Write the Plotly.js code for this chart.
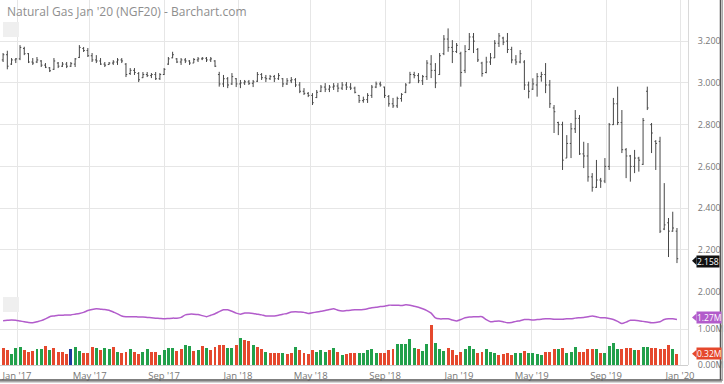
<!DOCTYPE html>
<html><head><meta charset="utf-8">
<script src="https://cdn.plot.ly/plotly-3.0.1.min.js"></script>
<style>html,body{margin:0;padding:0;background:#fff}#chart{width:724px;height:384px}</style>
</head><body><div id="chart"></div>
<script>
const weeks = [
"2016-12-09","2016-12-16","2016-12-23","2016-12-30",
"2017-01-06","2017-01-13","2017-01-20","2017-01-27","2017-02-03","2017-02-10","2017-02-17","2017-02-24",
"2017-03-03","2017-03-10","2017-03-17","2017-03-24","2017-03-31","2017-04-07","2017-04-14","2017-04-21","2017-04-28",
"2017-05-05","2017-05-12","2017-05-19","2017-05-26","2017-06-02","2017-06-09","2017-06-16","2017-06-23","2017-06-30",
"2017-07-07","2017-07-14","2017-07-21","2017-07-28","2017-08-04","2017-08-11","2017-08-18","2017-08-25",
"2017-09-01","2017-09-08","2017-09-15","2017-09-22","2017-09-29","2017-10-06","2017-10-13","2017-10-20","2017-10-27",
"2017-11-03","2017-11-10","2017-11-17","2017-11-24","2017-12-01","2017-12-08","2017-12-15","2017-12-22","2017-12-29",
"2018-01-05","2018-01-12","2018-01-19","2018-01-26","2018-02-02","2018-02-09","2018-02-16","2018-02-23",
"2018-03-02","2018-03-09","2018-03-16","2018-03-23","2018-03-30","2018-04-06","2018-04-13","2018-04-20","2018-04-27",
"2018-05-04","2018-05-11","2018-05-18","2018-05-25","2018-06-01","2018-06-08","2018-06-15","2018-06-22","2018-06-29",
"2018-07-06","2018-07-13","2018-07-20","2018-07-27","2018-08-03","2018-08-10","2018-08-17","2018-08-24","2018-08-31",
"2018-09-07","2018-09-14","2018-09-21","2018-09-28","2018-10-05","2018-10-12","2018-10-19","2018-10-26",
"2018-11-02","2018-11-09","2018-11-16","2018-11-23","2018-11-30","2018-12-07","2018-12-14","2018-12-21","2018-12-28",
"2019-01-04","2019-01-11","2019-01-18","2019-01-25","2019-02-01","2019-02-08","2019-02-15","2019-02-22",
"2019-03-01","2019-03-08","2019-03-15","2019-03-22","2019-03-29","2019-04-05","2019-04-12","2019-04-19","2019-04-26",
"2019-05-03","2019-05-10","2019-05-17","2019-05-24","2019-05-31","2019-06-07","2019-06-14","2019-06-21","2019-06-28",
"2019-07-05","2019-07-12","2019-07-19","2019-07-26","2019-08-02","2019-08-09","2019-08-16","2019-08-23","2019-08-30",
"2019-09-06","2019-09-13","2019-09-20","2019-09-27","2019-10-04","2019-10-11","2019-10-18","2019-10-25",
"2019-11-01","2019-11-08","2019-11-15","2019-11-22","2019-11-29","2019-12-06","2019-12-13","2019-12-20","2019-12-27"];

const openP = [
3.110,3.135,3.090,3.110,3.115,3.165,3.140,3.100,3.100,3.105,
3.085,3.072,3.065,3.095,3.080,3.090,3.080,3.090,3.122,3.165,
3.155,3.130,3.110,3.105,3.090,3.088,3.095,3.100,3.110,3.090,
3.045,3.060,3.045,3.025,3.040,3.035,3.040,3.020,3.040,3.090,
3.120,3.115,3.100,3.110,3.105,3.095,3.110,3.115,3.118,3.110,
3.105,3.040,2.995,3.020,2.995,3.020,2.995,3.000,3.005,2.998,
3.008,3.040,3.025,3.020,3.030,3.020,3.020,2.995,3.010,3.015,
2.990,2.960,2.950,2.940,2.930,2.960,2.980,2.970,2.980,2.985,
2.975,2.990,2.980,2.975,2.940,2.915,2.920,2.940,2.980,2.995,
2.980,2.935,2.900,2.890,2.925,2.955,3.000,3.040,3.035,3.010,
3.030,3.090,3.060,3.040,3.140,3.210,3.170,3.150,3.140,3.060,
3.160,3.220,3.160,3.095,3.050,3.100,3.120,3.190,3.215,3.200,
3.160,3.110,3.100,3.100,2.990,2.970,2.990,3.030,3.040,2.990,
2.880,2.810,2.800,2.640,2.710,2.780,2.830,2.660,2.650,2.550,
2.500,2.535,2.530,2.600,2.800,2.900,2.810,2.680,2.650,2.600,
2.640,2.610,2.960,2.800,2.720,2.720,2.300,2.330,2.290,2.290];
const highP = [
3.143,3.154,3.119,3.119,3.181,3.173,3.143,3.119,3.124,3.109,
3.095,3.076,3.119,3.100,3.100,3.100,3.100,3.119,3.181,3.172,
3.167,3.143,3.133,3.119,3.100,3.100,3.109,3.119,3.119,3.095,
3.071,3.071,3.052,3.052,3.052,3.047,3.052,3.047,3.071,3.124,
3.149,3.119,3.119,3.119,3.109,3.119,3.124,3.124,3.124,3.124,
3.109,3.053,3.038,3.028,3.047,3.023,3.014,3.014,3.014,3.014,
3.052,3.047,3.038,3.038,3.038,3.047,3.023,3.023,3.028,3.023,
3.004,2.975,2.956,2.951,2.966,2.990,2.999,2.990,2.999,2.999,
3.004,3.004,2.999,2.982,2.942,2.934,2.951,2.990,3.006,3.006,
2.982,2.942,2.928,2.934,2.951,2.999,3.053,3.053,3.047,3.038,
3.109,3.133,3.095,3.143,3.229,3.261,3.205,3.191,3.149,3.181,
3.239,3.239,3.167,3.101,3.125,3.143,3.205,3.239,3.221,3.239,
3.173,3.133,3.157,3.109,3.006,3.022,3.047,3.053,3.095,3.014,
2.894,2.814,2.814,2.750,2.808,2.870,2.846,2.718,2.712,2.568,
2.631,2.545,2.640,2.808,2.928,2.982,2.870,2.688,2.655,2.679,
2.646,2.832,2.982,2.808,2.726,2.742,2.520,2.353,2.383,2.305];
const lowP = [
3.100,3.065,3.086,3.095,3.109,3.133,3.095,3.086,3.095,3.076,
3.071,3.052,3.062,3.071,3.076,3.071,3.076,3.076,3.119,3.148,
3.124,3.100,3.095,3.086,3.076,3.086,3.086,3.086,3.095,3.028,
3.038,3.038,3.004,3.023,3.028,3.023,3.014,3.014,3.038,3.086,
3.118,3.095,3.086,3.095,3.086,3.095,3.100,3.109,3.100,3.100,
3.076,2.982,2.980,2.975,2.990,2.980,2.975,2.990,2.990,2.980,
3.004,3.014,3.004,3.014,3.004,3.014,2.980,2.990,2.999,2.980,
2.951,2.942,2.932,2.894,2.927,2.956,2.956,2.956,2.966,2.956,
2.966,2.966,2.966,2.950,2.904,2.905,2.904,2.928,2.975,2.982,
2.928,2.886,2.880,2.880,2.910,2.951,2.998,3.022,2.999,2.990,
3.014,3.023,2.975,3.038,3.133,3.149,3.095,3.143,2.982,3.047,
3.157,3.143,3.100,3.030,3.046,3.086,3.119,3.172,3.181,3.143,
3.094,3.086,3.094,2.966,2.926,2.966,2.934,3.006,2.951,2.880,
2.760,2.750,2.583,2.640,2.640,2.760,2.655,2.592,2.527,2.479,
2.497,2.497,2.520,2.583,2.798,2.798,2.664,2.544,2.527,2.568,
2.575,2.607,2.870,2.664,2.583,2.281,2.295,2.166,2.287,2.137];
const closeP = [
3.135,3.080,3.110,3.115,3.170,3.140,3.100,3.095,3.110,3.085,
3.075,3.058,3.105,3.080,3.090,3.080,3.092,3.115,3.170,3.155,
3.130,3.110,3.105,3.090,3.085,3.095,3.100,3.110,3.105,3.040,
3.060,3.050,3.015,3.040,3.035,3.040,3.020,3.040,3.065,3.115,
3.135,3.100,3.110,3.105,3.095,3.112,3.115,3.118,3.110,3.115,
3.080,2.995,3.020,2.990,3.030,2.995,3.000,3.005,2.998,3.005,
3.040,3.025,3.020,3.030,3.020,3.035,2.995,3.010,3.015,2.990,
2.960,2.950,2.940,2.905,2.955,2.980,2.970,2.980,2.985,2.975,
2.990,2.980,2.975,2.955,2.915,2.920,2.940,2.980,2.995,2.990,
2.940,2.900,2.890,2.925,2.945,2.990,3.040,3.035,3.010,3.030,
3.095,3.060,3.000,3.130,3.210,3.170,3.150,3.180,3.050,3.150,
3.220,3.200,3.110,3.045,3.100,3.120,3.190,3.225,3.195,3.160,
3.110,3.100,3.140,2.990,2.960,2.995,3.030,3.040,2.990,2.900,
2.862,2.800,2.630,2.710,2.780,2.830,2.660,2.650,2.550,2.500,
2.535,2.530,2.600,2.800,2.900,2.810,2.680,2.650,2.600,2.640,
2.630,2.820,2.880,2.760,2.710,2.290,2.320,2.290,2.305,2.158];

const volumeM = [
.49,.42,.32,.49,.51,.42,.38,.40,.44,.44,
.54,.43,.47,.38,.37,.32,.44,.51,.40,.33,
.33,.51,.47,.42,.48,.44,.51,.37,.33,.38,
.44,.36,.32,.38,.45,.38,.38,.29,.43,.48,
.48,.40,.46,.56,.54,.40,.42,.54,.49,.42,
.51,.56,.56,.49,.49,.56,.77,.69,.68,.56,
.51,.46,.38,.33,.35,.35,.33,.31,.35,.52,
.42,.33,.31,.42,.38,.42,.38,.42,.47,.38,
.28,.32,.35,.35,.33,.35,.43,.44,.35,.33,
.33,.42,.44,.58,.58,.58,.72,.49,.44,.40,
.60,1.11,.63,.44,.40,.49,.43,.28,.38,.44,
.54,.44,.33,.38,.46,.37,.33,.29,.31,.33,
.28,.33,.33,.40,.33,.33,.31,.28,.37,.37,
.44,.46,.49,.33,.37,.52,.37,.37,.44,.46,
.44,.35,.35,.54,.61,.46,.44,.49,.49,.43,
.43,.52,.52,.49,.47,.44,.44,.56,.44,.32];
const volumeDir = (
"rrgggrrrgg"+"rgrrrrbggr"+"rrgrggrgrr"+"grrggrrggg"+"grrggrgrgr"+
"rrrggrgrrg"+"rrgrrrgrrg"+"rrrrgggrgr"+"grrrg"+
"ggggrrrrgg"+"gggrggrggg"+"rrrrgggrrg"+"ggrrrrggrg"+"gggrrrgrgg"+
"grrrrgrggg"+"grrrgrggrr"+"rrrgr").split("");

const openInterestM = [
1.24,1.25,1.26,1.25,1.23,1.21,1.19,1.18,1.21,1.24,
1.29,1.35,1.37,1.39,1.39,1.40,1.40,1.42,1.44,1.47,
1.52,1.55,1.57,1.56,1.55,1.53,1.48,1.43,1.37,1.35,
1.35,1.35,1.34,1.34,1.33,1.32,1.31,1.30,1.29,1.30,
1.31,1.31,1.33,1.40,1.42,1.42,1.41,1.38,1.35,1.39,
1.43,1.49,1.54,1.54,1.50,1.45,1.42,1.45,1.45,1.44,
1.42,1.40,1.37,1.37,1.37,1.39,1.42,1.44,1.48,1.49,
1.48,1.47,1.44,1.46,1.48,1.50,1.52,1.55,1.57,1.53,
1.51,1.52,1.53,1.54,1.54,1.55,1.57,1.60,1.61,1.63,
1.64,1.67,1.67,1.67,1.66,1.68,1.67,1.64,1.61,1.57,
1.52,1.45,1.32,1.29,1.29,1.29,1.26,1.23,1.27,1.32,
1.34,1.35,1.35,1.35,1.27,1.21,1.22,1.23,1.21,1.18,
1.19,1.22,1.24,1.27,1.27,1.26,1.27,1.28,1.29,1.29,
1.28,1.28,1.28,1.29,1.29,1.31,1.32,1.33,1.35,1.37,
1.35,1.32,1.32,1.30,1.27,1.22,1.16,1.20,1.25,1.25,
1.24,1.22,1.20,1.18,1.19,1.21,1.27,1.29,1.29,1.27];

const xTickVals = ["2017-01-01","2017-05-01","2017-09-01","2018-01-01","2018-05-01","2018-09-01","2019-01-01","2019-05-01","2019-09-01","2020-01-01"];
const xTickText = ["Jan '17","May '17","Sep '17","Jan '18","May '18","Sep '18","Jan '19","May '19","Sep '19","Jan '20"];
const priceTicks = [2.0,2.2,2.4,2.6,2.8,3.0,3.2];
const priceTickText = ["2.000","2.200","2.400","2.600","2.800","3.000","3.200"];
const volTicks = [0,1];
const volTickText = ["0.00M","1.00M"];
const lastPrice = 2.158, lastOI = 1.27, lastVol = 0.32;

const W=724, H=384;
const px = v => v/W, py = v => 1 - v/H;
const GREEN='#22a04b', RED='#e5482d', BLUE='#1d3c9c', PURPLE='#b25ccb';
const colMap = {g:GREEN, r:RED, b:BLUE};
const weekMs = 7*86400000;

const traces = [
 {type:'ohlc', x:weeks, open:openP, high:highP, low:lowP, close:closeP, xaxis:'x', yaxis:'y',
  increasing:{line:{color:'#474747', width:1}}, decreasing:{line:{color:'#474747', width:1}},
  tickwidth:0.3, hoverinfo:'skip'},
 {type:'bar', x:weeks, y:volumeM, xaxis:'x', yaxis:'y2', width:weekMs*0.7,
  marker:{color:volumeDir.map(d=>colMap[d]), line:{width:0}}, hoverinfo:'skip'},
 {type:'scatter', mode:'lines', x:weeks, y:openInterestM, xaxis:'x', yaxis:'y2',
  line:{color:PURPLE, width:1.5, shape:'spline', smoothing:0.6}, hoverinfo:'skip'}
];

const tickFont = {family:'Open Sans', size:9.5, color:'#777'};
const yTickFont = {family:'Open Sans', size:9, color:'#777'};
const tagFont = {family:'Open Sans', size:8.5, color:'#fff'};
const grid = '#e6e6e6';
const layout = {
 width:W, height:H, margin:{l:0,r:0,t:0,b:0}, paper_bgcolor:'#fff', plot_bgcolor:'#fff',
 showlegend:false, bargap:0,
 title:{text:"Natural Gas Jan '20 (NGF20) - Barchart.com", x:px(7), xanchor:'left', xref:'paper', y:py(12), yanchor:'middle',
        font:{family:'Open Sans', size:12, color:'#8e8e8e'}},
 xaxis:{type:'date', domain:[0, px(688)], range:['2016-12-03 22:00','2020-01-14 05:00'], anchor:'y2',
        rangeslider:{visible:false}, tickmode:'array', tickvals:xTickVals, ticktext:xTickText,
        showgrid:true, gridcolor:grid, gridwidth:1, zeroline:false, showline:false, ticks:'',
        tickfont:tickFont, ticklabelstandoff:3, fixedrange:true},
 yaxis:{domain:[py(291.7), 1], range:[2.0, 3.397], side:'right', tickmode:'array', tickvals:priceTicks, ticktext:priceTickText,
        showgrid:true, gridcolor:grid, zeroline:false, showline:true, linecolor:'#d9d9d9', ticks:'',
        tickfont:yTickFont, ticklabelstandoff:7, fixedrange:true},
 yaxis2:{domain:[py(365.3), py(291.7)], range:[0, 2.044], side:'right', tickmode:'array', tickvals:volTicks, ticktext:volTickText,
        showgrid:true, gridcolor:grid, zeroline:false, showline:true, linecolor:'#d9d9d9', ticks:'',
        tickfont:yTickFont, ticklabelstandoff:7, fixedrange:true},
 shapes:[
  {type:'rect', xref:'paper', yref:'paper', x0:px(3), x1:px(19), y0:py(37), y1:py(22), fillcolor:'#efefef', line:{width:0}},
  {type:'rect', xref:'paper', yref:'paper', x0:px(3), x1:px(19), y0:py(312), y1:py(297), fillcolor:'#efefef', line:{width:0}},
  {type:'line', xref:'paper', yref:'paper', x0:0, x1:px(688), y0:py(365.5), y1:py(365.5), line:{color:'#cfcfcf', width:1}},
  {type:'path', xref:'paper', yref:'y', path:`M ${px(692)},${lastPrice-0.01} L ${px(696.5)},${lastPrice+0.01} L ${px(696.5)},${lastPrice-0.03} Z`, fillcolor:'#111', line:{width:0}},
  {type:'path', xref:'paper', yref:'y2', path:`M ${px(692)},${lastOI+0.06} L ${px(696.5)},${lastOI+0.17} L ${px(696.5)},${lastOI-0.05} Z`, fillcolor:PURPLE, line:{width:0}},
  {type:'path', xref:'paper', yref:'y2', path:`M ${px(692)},${lastVol} L ${px(696.5)},${lastVol+0.11} L ${px(696.5)},${lastVol-0.11} Z`, fillcolor:RED, line:{width:0}},
  {type:'line', xref:'paper', yref:'paper', x0:0, x1:px(722), y0:py(380), y1:py(380), line:{color:'#555', width:1.5}},
  {type:'line', xref:'paper', yref:'paper', x0:0, x1:px(722), y0:py(381.8), y1:py(381.8), line:{color:'#aaa', width:1.5}},
  {type:'line', xref:'paper', yref:'paper', x0:px(720.5), x1:px(720.5), y0:py(380), y1:1, line:{color:'#555', width:1.5}},
  {type:'line', xref:'paper', yref:'paper', x0:px(722.3), x1:px(722.3), y0:py(381), y1:1, line:{color:'#aaa', width:1.5}}
 ],
 annotations:[
  {xref:'paper', yref:'y', x:px(696), xanchor:'left', y:lastPrice, yanchor:'middle', yshift:-2.5, text:lastPrice.toFixed(3), showarrow:false,
   bgcolor:'#111', font:tagFont, borderpad:0},
  {xref:'paper', yref:'y2', x:px(696), xanchor:'left', y:lastOI, yanchor:'middle', yshift:2.5, text:lastOI.toFixed(2)+'M', showarrow:false,
   bgcolor:PURPLE, font:tagFont, borderpad:0},
  {xref:'paper', yref:'y2', x:px(696), xanchor:'left', y:lastVol, yanchor:'middle', text:lastVol.toFixed(2)+'M', showarrow:false,
   bgcolor:RED, font:tagFont, borderpad:0}
 ]
};
Plotly.newPlot('chart', traces, layout, {staticPlot:true, displayModeBar:false});
</script></body></html>
